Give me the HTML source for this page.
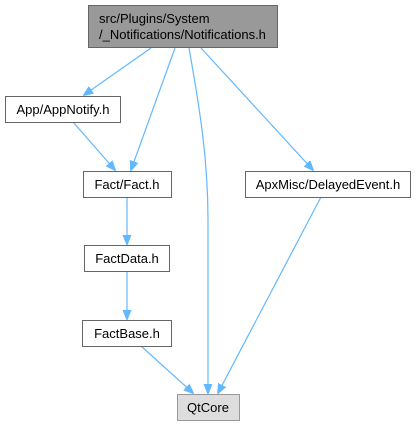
<!DOCTYPE html>
<html><head><style>
html,body{margin:0;padding:0;background:#fff;}
svg{display:block;}
text{font-family:"Liberation Sans",sans-serif;font-size:13px;fill:#000;}
</style></head><body>
<svg width="417" height="427" viewBox="0 0 417 427">
<defs><marker id="a" markerWidth="10" markerHeight="10" refX="9" refY="5" orient="auto" markerUnits="userSpaceOnUse">
<path d="M0,1 L10,5 L0,9 Z" fill="#63b8ff" stroke="#63b8ff"/></marker></defs>
<g stroke="#63b8ff" stroke-width="1.2" fill="none" marker-end="url(#a)">
<line x1="151" y1="48" x2="84" y2="95"/>
<line x1="175" y1="48" x2="131" y2="170"/>
<path d="M189,48 C200,110 208,160 208,220 L208,393"/>
<line x1="201" y1="48" x2="313" y2="170"/>
<line x1="73" y1="122" x2="115" y2="170"/>
<line x1="127" y1="197" x2="127" y2="244"/>
<line x1="127" y1="272" x2="127" y2="319"/>
<line x1="141" y1="346" x2="193" y2="393"/>
<line x1="321" y1="197" x2="218" y2="393"/>
</g>
<g stroke="#666" stroke-width="1">
<rect x="88.5" y="5.5" width="189" height="42" fill="#999"/>
<rect x="5.5" y="96.5" width="115" height="26" fill="#fff"/>
<rect x="83.5" y="171.5" width="88" height="26" fill="#fff"/>
<rect x="245.5" y="171.5" width="165" height="26" fill="#fff"/>
<rect x="84.5" y="245.5" width="85" height="26" fill="#fff"/>
<rect x="82.5" y="320.5" width="89" height="26" fill="#fff"/>
<rect x="177.5" y="394.5" width="62" height="26" fill="#ddd" stroke="#999"/>
</g>
<text x="99" y="23">src/Plugins/System</text>
<text x="99" y="39">/_Notifications/Notifications.h</text>
<text x="63" y="114" text-anchor="middle">App/AppNotify.h</text>
<text x="127" y="189" text-anchor="middle">Fact/Fact.h</text>
<text x="328" y="189" text-anchor="middle">ApxMisc/DelayedEvent.h</text>
<text x="127" y="263" text-anchor="middle">FactData.h</text>
<text x="127" y="338" text-anchor="middle">FactBase.h</text>
<text x="208" y="412" text-anchor="middle">QtCore</text>
</svg>
</body></html>
